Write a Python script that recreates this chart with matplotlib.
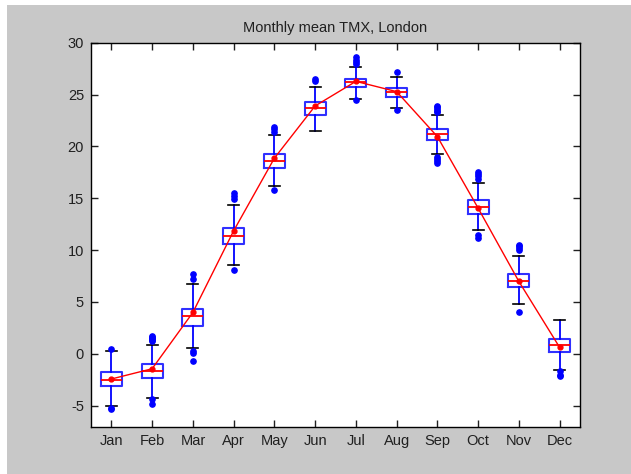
import numpy as np
import matplotlib
matplotlib.use('Agg')
import matplotlib.pyplot as plt
from matplotlib.patches import Rectangle

# Monthly mean daily max temperature, London (box statistics per month)
months = ['Jan', 'Feb', 'Mar', 'Apr', 'May', 'Jun',
          'Jul', 'Aug', 'Sep', 'Oct', 'Nov', 'Dec']
q1 = [-3.08, -2.31, 2.70, 10.63, 17.92, 23.03, 25.73, 24.77, 20.62, 13.46, 6.42, 0.19]
q3 = [-1.77, -1.00, 4.34, 12.17, 19.24, 24.25, 26.53, 25.67, 21.65, 14.78, 7.71, 1.41]
medians = [-2.51, -1.64, 3.60, 11.40, 18.60, 23.74, 26.18, 25.22, 21.17, 14.13, 7.03, 0.87]
means = [-2.44, -1.45, 3.98, 11.85, 18.86, 23.90, 26.27, 25.28, 20.94, 14.04, 6.97, 0.61]
whisk_lo = [-5.08, -4.27, 0.55, 8.58, 16.19, 21.52, 24.61, 23.67, 19.24, 11.95, 4.82, -1.61]
whisk_hi = [0.30, 0.87, 6.75, 14.36, 21.10, 25.76, 27.69, 26.73, 23.03, 16.51, 9.44, 3.28]
outliers = [
    [0.42, -5.20, -5.35],
    [1.20, 1.30, 1.40, 1.50, 1.60, 1.73, -4.35, -4.82],
    [7.20, 7.71, 0.22, 0.06, -0.67],
    [14.94, 15.23, 15.48, 8.09],
    [21.43, 21.65, 21.90, 15.80],
    [26.34, 26.50],
    [27.95, 28.14, 28.33, 28.59, 24.52],
    [27.18, 23.55],
    [23.30, 23.45, 23.60, 23.75, 23.90, 19.00, 18.80, 18.60, 18.40],
    [16.90, 17.10, 17.30, 17.50, 11.47, 11.15],
    [10.05, 10.20, 10.35, 10.50, 3.98],
    [-1.70, -2.02, -2.18],
]

plt.rcParams['font.family'] = ['Liberation Sans', 'DejaVu Sans']
plt.rcParams['axes.unicode_minus'] = False

fig = plt.figure(figsize=(6.31, 4.74), dpi=100, facecolor='white')
# grey figure panel, leaving a thin white strip on the left and top
fig.patches.append(Rectangle((7 / 631, 0), 1, 1 - 5 / 474, transform=fig.transFigure,
                             facecolor='#c8c8c8', edgecolor='none', zorder=-1))
ax = fig.add_axes([91 / 631, 1 - 427 / 474, 489 / 631, (427 - 42.7) / 474])

stats = []
for i in range(len(months)):
    stats.append(dict(med=medians[i], q1=q1[i], q3=q3[i],
                      whislo=whisk_lo[i], whishi=whisk_hi[i],
                      fliers=outliers[i], label=months[i]))

pos = np.arange(1, len(months) + 1)
ax.bxp(stats, positions=pos, widths=0.52, showfliers=True,
       boxprops=dict(color='#3030ff', linewidth=1.5),
       medianprops=dict(color='red', linewidth=1.3),
       whiskerprops=dict(color='blue', linewidth=1.3),
       capprops=dict(color='black', linewidth=1.2),
       flierprops=dict(marker='o', markerfacecolor='blue', markeredgecolor='blue',
                       markersize=3.8, linestyle='none'),
       capwidths=0.27, manage_ticks=False)

ax.plot(pos, means, color='red', linewidth=1, marker='o', markersize=3.5,
        markerfacecolor='red', markeredgecolor='red', zorder=5)

ax.set_xlim(0.5, 12.5)
ax.set_ylim(-7.07, 30)
ax.set_xticks(pos)
ax.set_xticklabels(months)
ax.set_yticks(np.arange(-5, 31, 5))
ax.tick_params(direction='in', top=True, right=True, length=5, width=1,
               labelsize=10.5, colors='#202020', pad=5)
for s in ax.spines.values():
    s.set_linewidth(1)
ax.set_title('Monthly mean TMX, London', fontsize=10.5, pad=8, color='#202020')

fig.savefig('out.png', dpi=100, facecolor=fig.get_facecolor())
